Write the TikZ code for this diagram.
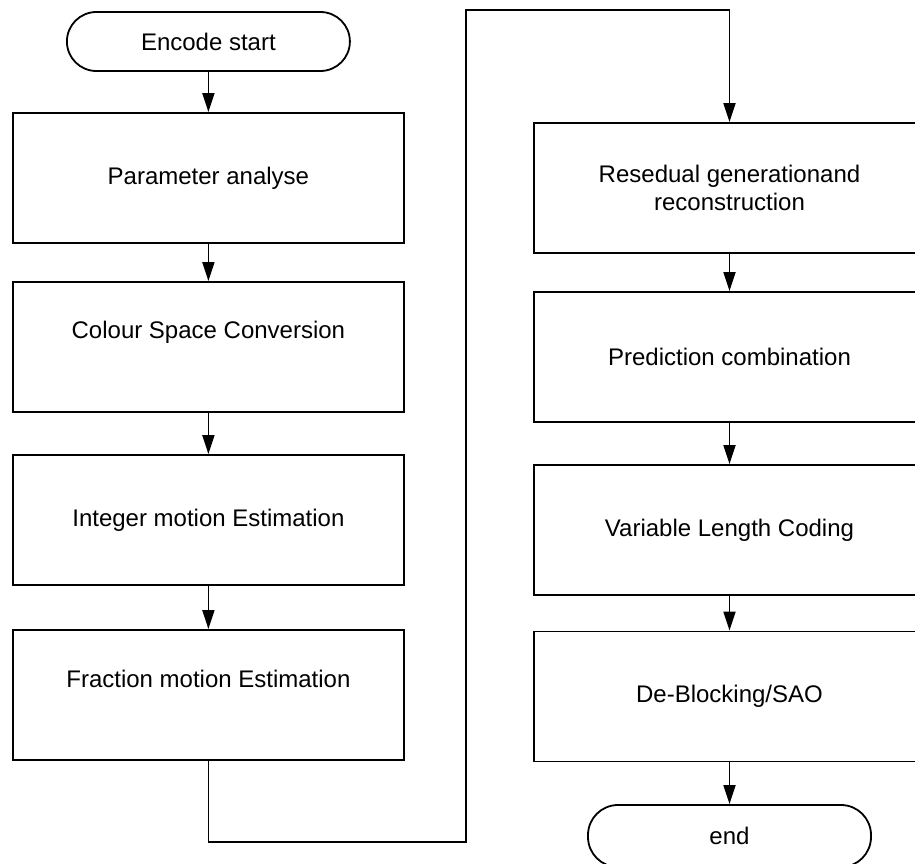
\documentclass[tikz,border=0pt]{standalone}
\usepackage{fontspec}
\setmainfont{Liberation Sans}
\usetikzlibrary{arrows.meta}
\begin{document}
\begin{tikzpicture}[x=1pt,y=-1pt,
  txt/.style={font=\fontsize{24}{28.5}\selectfont, align=center, inner sep=0pt},
  proc/.style={draw, line width=1.8pt, minimum width=391pt, minimum height=130pt, inner sep=0pt, txt},
  term/.style={draw, line width=1.8pt, rounded corners=29.5pt, minimum width=283pt, minimum height=59pt, inner sep=0pt, txt},
  arr/.style={-{Triangle[length=19pt,width=12pt]}, line width=1.8pt}]
\useasboundingbox (0,0) rectangle (915,864);
\clip (0,0) rectangle (915,864);
% left column
\node[term] (start) at (208.4,41.5) {Encode start};
\node[proc] (b1) at (208.4,178) {Parameter analyse};
\node[proc] (b2) at (208.4,347) {};
\node[txt] (t2) at ([yshift=15pt]b2.center) {Colour Space Conversion};
\node[proc] (b3) at (208.4,520) {Integer motion Estimation};
\node[proc] (b4) at (208.4,695) {};
\node[txt] (t4) at ([yshift=16pt]b4.center) {Fraction motion Estimation};
% right column
\node[proc] (b5) at (729.5,188) {Resedual generationand\\reconstruction};
\node[proc] (b6) at (729.5,357) {Prediction combination};
\node[proc] (b7) at (729.5,530) {Variable Length Coding};
\node[proc] (b8) at (729.5,696.5) {De-Blocking/SAO};
\node[term, minimum height=62pt, rounded corners=30pt] (end) at (729.5,836) {end};
% connectors
\draw[arr] (start.south) -- (b1.north);
\draw[arr] (b1.south) -- (b2.north);
\draw[arr] (b2.south) -- (b3.north);
\draw[arr] (b3.south) -- (b4.north);
\coordinate (lo) at (466,842);
\coordinate (hi) at (466,10);
\draw[arr] (b4.south) |- (lo) -- (hi) -| (b5.north);
\draw[arr] (b5.south) -- (b6.north);
\draw[arr] (b6.south) -- (b7.north);
\draw[arr] (b7.south) -- (b8.north);
\draw[arr] (b8.south) -- (end.north);
\end{tikzpicture}
\end{document}
